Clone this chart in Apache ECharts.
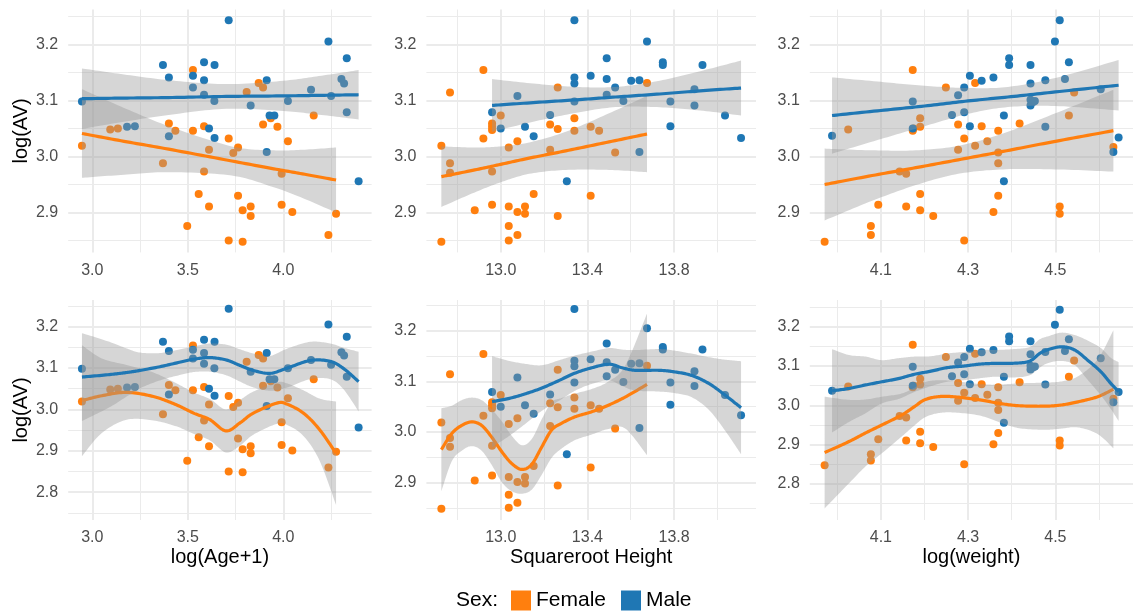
<!DOCTYPE html>
<html><head><meta charset="utf-8">
<script src="https://cdn.jsdelivr.net/npm/echarts@6/dist/echarts.min.js"></script>
<style>html,body{margin:0;padding:0;background:#fff}#c{width:1133px;height:612px}</style>
</head><body><div id="c"></div>
<script>
// ---------- data: [x, logAV] ----------
const ageFemale = [[2.946,3.019],[3.094,3.048],[3.134,3.050],[3.370,2.988],[3.401,3.059],[3.435,3.046],[3.527,3.154],[3.527,3.046],[3.585,3.054],[3.585,2.973],[3.557,2.933],[3.611,3.012],[3.611,2.911],[3.497,2.876],[3.714,3.032],[3.738,3.006],[3.763,3.016],[3.763,2.930],[3.787,2.904],[3.829,2.911],[3.829,2.894],[3.714,2.850],[3.787,2.848],[3.808,3.115],[3.871,3.131],[3.894,3.123],[3.894,3.057],[3.934,3.068],[3.969,3.053],[4.024,3.027],[3.991,2.969],[3.991,2.914],[4.047,2.901],[4.159,3.073],[4.236,2.860],[4.276,2.898]];
const ageMale = [[2.946,3.098],[3.370,3.163],[3.401,3.141],[3.182,3.053],[3.223,3.054],[3.401,3.036],[3.527,3.144],[3.527,3.123],[3.585,3.168],[3.585,3.136],[3.585,3.110],[3.640,3.163],[3.639,3.099],[3.611,3.050],[3.640,3.033],[3.714,3.243],[3.829,3.091],[3.913,3.136],[3.928,3.073],[3.953,3.073],[3.913,3.008],[4.024,3.099],[4.145,3.119],[4.236,3.205],[4.250,3.108],[4.304,3.138],[4.318,3.130],[4.332,3.175],[4.332,3.079],[4.394,2.956]];
const heightFemale = [[12.726,3.019],[12.726,2.848],[12.766,3.114],[12.766,2.988],[12.766,2.971],[12.880,2.904],[12.920,3.154],[12.920,3.032],[12.960,3.059],[12.960,3.053],[12.960,3.047],[12.960,2.973],[12.960,2.914],[13.000,3.073],[13.037,3.016],[13.037,2.911],[13.037,2.876],[13.037,2.850],[13.077,3.027],[13.077,2.901],[13.077,2.860],[13.112,2.911],[13.112,2.898],[13.152,2.933],[13.228,3.057],[13.228,3.012],[13.263,3.123],[13.263,3.049],[13.263,2.894],[13.340,3.068],[13.340,3.046],[13.415,3.053],[13.415,2.930],[13.454,3.046],[13.528,3.007],[13.675,3.131]];
const heightMale = [[12.960,3.079],[13.000,3.050],[13.077,3.108],[13.112,3.053],[13.152,3.036],[13.228,3.074],[13.305,2.956],[13.340,3.243],[13.340,3.141],[13.340,3.130],[13.340,3.098],[13.415,3.144],[13.489,3.175],[13.489,3.138],[13.489,3.110],[13.528,3.123],[13.566,3.099],[13.602,3.135],[13.640,3.136],[13.640,3.008],[13.675,3.205],[13.748,3.168],[13.748,3.163],[13.783,3.098],[13.783,3.054],[13.894,3.120],[13.894,3.091],[13.931,3.163],[14.035,3.073],[14.109,3.033]];
const weightFemale = [[3.971,2.848],[4.025,3.048],[4.077,2.876],[4.077,2.860],[4.094,2.914],[4.143,2.973],[4.158,2.969],[4.158,2.911],[4.173,3.154],[4.173,3.046],[4.175,3.050],[4.190,3.068],[4.190,3.053],[4.190,2.933],[4.190,2.904],[4.220,2.894],[4.249,3.123],[4.277,3.057],[4.277,3.012],[4.291,3.032],[4.291,2.850],[4.316,3.131],[4.316,3.019],[4.331,3.054],[4.344,3.027],[4.358,2.901],[4.369,3.046],[4.369,3.007],[4.369,2.988],[4.369,2.930],[4.418,3.059],[4.510,2.911],[4.510,2.898],[4.531,3.073],[4.543,3.114],[4.633,3.017]];
const weightMale = [[3.988,3.037],[4.173,3.098],[4.173,3.050],[4.263,3.074],[4.277,3.109],[4.291,3.123],[4.291,3.079],[4.304,3.144],[4.304,3.054],[4.331,3.135],[4.358,3.141],[4.382,3.073],[4.382,2.956],[4.394,3.175],[4.394,3.163],[4.443,3.163],[4.443,3.130],[4.443,3.101],[4.443,3.091],[4.449,3.097],[4.453,3.099],[4.477,3.136],[4.477,3.053],[4.499,3.205],[4.510,3.243],[4.522,3.138],[4.531,3.168],[4.604,3.120],[4.633,3.008],[4.645,3.034]];

// ---------- smoothers: [x, lower, fit, upper] ----------
const lmAgeFemale = [[2.946,2.962,3.041,3.120],[3.15,2.967,3.028,3.089],[3.4,2.972,3.013,3.054],[3.73,2.966,2.992,3.018],[3.95,2.945,2.978,3.011],[4.1,2.926,2.969,3.012],[4.276,2.900,2.958,3.016]];
const lmAgeMale = [[2.946,3.049,3.103,3.157],[3.15,3.061,3.104,3.147],[3.4,3.074,3.105,3.136],[3.7,3.085,3.107,3.129],[4.0,3.081,3.108,3.135],[4.2,3.074,3.109,3.144],[4.394,3.066,3.110,3.154]];
const lmHeightFemale = [[12.726,2.910,2.964,3.018],[12.88,2.936,2.976,3.016],[13.0,2.954,2.986,3.018],[13.131,2.969,2.997,3.025],[13.3,2.976,3.010,3.044],[13.5,2.976,3.026,3.077],[13.675,2.972,3.040,3.108]];
const lmHeightMale = [[12.96,3.044,3.091,3.138],[13.15,3.062,3.096,3.130],[13.35,3.078,3.101,3.124],[13.53,3.088,3.106,3.124],[13.72,3.088,3.111,3.134],[13.92,3.082,3.117,3.152],[14.109,3.073,3.122,3.171]];
const lmWeightFemale = [[3.971,2.886,2.950,3.014],[4.08,2.921,2.966,3.011],[4.18,2.949,2.980,3.011],[4.277,2.969,2.994,3.019],[4.38,2.977,3.009,3.041],[4.5,2.977,3.027,3.077],[4.633,2.973,3.046,3.119]];
const lmWeightMale = [[3.988,3.005,3.073,3.141],[4.1,3.031,3.082,3.133],[4.2,3.054,3.090,3.126],[4.3,3.076,3.099,3.122],[4.391,3.088,3.106,3.124],[4.5,3.090,3.115,3.140],[4.645,3.082,3.127,3.172]];

const loessAgeFemale = [[2.946,2.887,3.021,3.155],[3.05,2.943,3.033,3.123],[3.18,2.975,3.041,3.107],[3.32,2.973,3.031,3.089],[3.44,2.959,3.011,3.063],[3.53,2.941,2.991,3.041],[3.616,2.925,2.975,3.025],[3.70,2.896,2.948,3.000],[3.775,2.913,2.968,3.023],[3.843,2.939,2.991,3.043],[3.965,2.965,3.015,3.065],[4.017,2.963,3.013,3.063],[4.105,2.936,2.991,3.046],[4.19,2.876,2.951,3.026],[4.276,2.769,2.894,3.019]];
const loessAgeMale = [[2.946,2.972,3.078,3.184],[3.09,3.005,3.084,3.163],[3.18,3.031,3.089,3.147],[3.25,3.051,3.094,3.137],[3.354,3.070,3.103,3.136],[3.45,3.082,3.113,3.144],[3.53,3.090,3.121,3.152],[3.616,3.091,3.125,3.159],[3.703,3.082,3.119,3.156],[3.773,3.067,3.106,3.145],[3.843,3.053,3.094,3.135],[3.93,3.045,3.087,3.129],[4.017,3.052,3.099,3.146],[4.14,3.073,3.118,3.163],[4.245,3.073,3.116,3.159],[4.314,3.049,3.099,3.149],[4.394,2.995,3.067,3.139]];
const loessHeightFemale = [[12.726,2.883,2.965,3.047],[12.774,2.942,2.997,3.052],[12.82,2.963,3.013,3.063],[12.866,2.972,3.020,3.068],[12.912,2.963,3.013,3.063],[12.958,2.935,2.990,3.045],[13.005,2.901,2.961,3.021],[13.05,2.883,2.938,2.993],[13.097,2.878,2.926,2.974],[13.143,2.886,2.936,2.986],[13.19,2.916,2.971,3.026],[13.235,2.949,3.004,3.059],[13.28,2.967,3.017,3.067],[13.343,2.984,3.030,3.076],[13.42,2.995,3.040,3.085],[13.497,3.006,3.053,3.100],[13.574,3.007,3.069,3.131],[13.675,2.954,3.094,3.234]];
const loessHeightMale = [[12.96,2.970,3.060,3.150],[13.035,2.991,3.066,3.141],[13.11,3.015,3.075,3.135],[13.19,3.042,3.087,3.132],[13.27,3.062,3.102,3.142],[13.34,3.081,3.116,3.151],[13.42,3.095,3.127,3.159],[13.5,3.102,3.134,3.166],[13.56,3.091,3.127,3.163],[13.62,3.082,3.122,3.162],[13.73,3.080,3.122,3.164],[13.8,3.077,3.119,3.161],[13.88,3.069,3.112,3.155],[13.96,3.044,3.096,3.148],[14.035,3.003,3.073,3.143],[14.109,2.956,3.048,3.140]];
const loessWeightFemale = [[3.971,2.738,2.880,3.022],[4.027,2.802,2.908,3.014],[4.065,2.845,2.930,3.015],[4.102,2.878,2.950,3.022],[4.147,2.920,2.975,3.030],[4.177,2.949,2.997,3.045],[4.2,2.969,3.014,3.059],[4.23,2.980,3.022,3.064],[4.267,2.982,3.022,3.062],[4.327,2.974,3.014,3.054],[4.372,2.957,3.005,3.053],[4.417,2.942,2.999,3.056],[4.477,2.938,2.998,3.058],[4.514,2.941,3.001,3.061],[4.552,2.944,3.009,3.074],[4.597,2.927,3.022,3.117],[4.633,2.891,3.041,3.191]];
const loessWeightMale = [[3.988,2.931,3.037,3.143],[4.027,2.958,3.043,3.128],[4.065,2.980,3.052,3.124],[4.102,3.005,3.060,3.115],[4.14,3.016,3.068,3.120],[4.177,3.034,3.079,3.124],[4.215,3.049,3.087,3.125],[4.252,3.060,3.096,3.132],[4.29,3.064,3.100,3.136],[4.327,3.069,3.105,3.141],[4.364,3.073,3.107,3.141],[4.402,3.071,3.107,3.143],[4.44,3.076,3.112,3.148],[4.464,3.096,3.132,3.168],[4.484,3.108,3.142,3.176],[4.514,3.113,3.149,3.185],[4.544,3.103,3.141,3.179],[4.574,3.065,3.115,3.165],[4.604,3.026,3.086,3.146],[4.627,2.991,3.056,3.121],[4.645,2.960,3.035,3.110]];

// ---------- tick labels ----------
const xTicksAge = [3.0, 3.5, 4.0];
const xTicksHeight = [13.0, 13.4, 13.8];
const xTicksWeight = [4.1, 4.3, 4.5];
const yTicksTop = [2.9, 3.0, 3.1, 3.2];
const yTicksBottomAge = [2.8, 2.9, 3.0, 3.1, 3.2];
const yTicksBottomHeight = [2.9, 3.0, 3.1, 3.2];
const yTicksBottomWeight = [2.8, 2.9, 3.0, 3.1, 3.2];
const xTitles = ['log(Age+1)', 'Squareroot Height', 'log(weight)'];
const yTitle = 'log(AV)';
const sexLevels = ['Female', 'Male'];

// ---------- layout & style ----------
const FONT = '"Liberation Sans", Arial, Helvetica, sans-serif';
const ORANGE = '#FF7F0E', BLUE = '#1F77B4';
const GRIDC = '#EBEBEB';
const BAND = 'rgba(153,153,153,0.4)';
const cols = [
  {left: 68.2, width: 303.4, xr: [2.874, 4.462], xt: xTicksAge, f: ageFemale, m: ageMale, lf: lmAgeFemale, lm: lmAgeMale, sf: loessAgeFemale, sm: loessAgeMale},
  {left: 426.4, width: 329.6, xr: [12.657, 14.178], xt: xTicksHeight, f: heightFemale, m: heightMale, lf: lmHeightFemale, lm: lmHeightMale, sf: loessHeightFemale, sm: loessHeightMale},
  {left: 809.8, width: 329.7, xr: [3.937, 4.678], xt: xTicksWeight, f: weightFemale, m: weightMale, lf: lmWeightFemale, lm: lmWeightMale, sf: loessWeightFemale, sm: loessWeightMale}
];
const rows = [
  {top: 9.5, height: 242.9, yr: [[2.829, 3.262], [2.829, 3.262], [2.829, 3.262]], yt: [yTicksTop, yTicksTop, yTicksTop]},
  {top: 300, height: 220, yr: [[2.733, 3.264], [2.826, 3.261], [2.7085, 3.268]], yt: [yTicksBottomAge, yTicksBottomHeight, yTicksBottomWeight]}
];

function minors(ticks, range) {
  const step = ticks[1] - ticks[0];
  const out = [];
  for (let v = ticks[0] - step / 2; v <= range[1] + 1e-9; v += step) {
    if (v >= range[0] - 1e-9) out.push(+v.toFixed(4));
  }
  return out;
}

// Catmull-Rom curve through screen points (rendering only)
function spline(P) {
  const out = [];
  const n = P.length;
  for (let i = 0; i < n - 1; i++) {
    const p0 = P[Math.max(i - 1, 0)], p1 = P[i], p2 = P[i + 1], p3 = P[Math.min(i + 2, n - 1)];
    const steps = 14;
    for (let k = 0; k < steps; k++) {
      const t = k / steps, t2 = t * t, t3 = t2 * t;
      const f = (a, b, c, d) => 0.5 * ((2 * b) + (-a + c) * t + (2 * a - 5 * b + 4 * c - d) * t2 + (-a + 3 * b - 3 * c + d) * t3);
      out.push([f(p0[0], p1[0], p2[0], p3[0]), f(p0[1], p1[1], p2[1], p3[1])]);
    }
  }
  out.push(P[n - 1]);
  return out;
}

function bandItem(rowsData) {
  return function (params, api) {
    if (params.dataIndex !== 0) return null;
    const up = spline(rowsData.map(d => api.coord([d[0], d[3]])));
    const lo = spline(rowsData.map(d => api.coord([d[0], d[1]])));
    return {type: 'polygon', silent: true, shape: {points: up.concat(lo.reverse())}, style: {fill: BAND, stroke: null}};
  };
}
function lineItem(rowsData, color) {
  return function (params, api) {
    if (params.dataIndex !== 0) return null;
    const pts = spline(rowsData.map(d => api.coord([d[0], d[2]])));
    return {type: 'polyline', silent: true, shape: {points: pts}, style: {stroke: color, lineWidth: 3.2, fill: null, lineJoin: 'round', lineCap: 'butt'}};
  };
}

const grid = [], xAxis = [], yAxis = [], series = [];
let idx = 0;
rows.forEach((row, r) => {
  cols.forEach((col, c) => {
    const i = idx++;
    const yr = row.yr[c], yt = row.yt[c];
    grid.push({left: col.left, top: row.top, width: col.width, height: row.height, containLabel: false});
    xAxis.push({
      type: 'value', gridIndex: i, min: col.xr[0], max: col.xr[1],
      axisLine: {show: false}, axisTick: {show: false}, splitLine: {show: false},
      axisLabel: {customValues: col.xt, formatter: v => Number(v).toFixed(1), fontSize: 16, color: '#4D4D4D', margin: 10, fontFamily: FONT},
      name: r === 1 ? xTitles[c] : '', nameLocation: 'middle', nameGap: 27,
      nameTextStyle: {fontSize: 20, color: '#000', fontFamily: FONT}
    });
    yAxis.push({
      type: 'value', gridIndex: i, min: yr[0], max: yr[1],
      axisLine: {show: false}, axisTick: {show: false}, splitLine: {show: false},
      axisLabel: {customValues: yt, formatter: v => Number(v).toFixed(1), fontSize: 16, color: '#4D4D4D', margin: 10, fontFamily: FONT},
      name: c === 0 ? yTitle : '', nameLocation: 'middle', nameGap: 37,
      nameTextStyle: {fontSize: 20, color: '#000', fontFamily: FONT}
    });
    // grid lines
    const ml = [];
    minors(col.xt, col.xr).forEach(v => ml.push({xAxis: v, lineStyle: {color: GRIDC, width: 1, type: 'solid'}}));
    minors(yt, yr).forEach(v => ml.push({yAxis: v, lineStyle: {color: GRIDC, width: 1, type: 'solid'}}));
    col.xt.forEach(v => ml.push({xAxis: v, lineStyle: {color: GRIDC, width: 2, type: 'solid'}}));
    yt.forEach(v => ml.push({yAxis: v, lineStyle: {color: GRIDC, width: 2, type: 'solid'}}));
    series.push({
      type: 'line', xAxisIndex: i, yAxisIndex: i, data: [], z: 0, silent: true,
      markLine: {z: 0, silent: true, symbol: ['none', 'none'], label: {show: false}, animation: false, data: ml}
    });
    // points
    series.push({type: 'scatter', name: sexLevels[0], xAxisIndex: i, yAxisIndex: i, data: col.f, symbolSize: 8, itemStyle: {color: ORANGE, opacity: 1}, z: 2, silent: true});
    series.push({type: 'scatter', name: sexLevels[1], xAxisIndex: i, yAxisIndex: i, data: col.m, symbolSize: 8, itemStyle: {color: BLUE, opacity: 1}, z: 2, silent: true});
    // smoothers (band then line, Female then Male)
    const fits = r === 0 ? [col.lf, col.lm] : [col.sf, col.sm];
    fits.forEach((fit, s) => {
      const zb = 3 + s * 2;
      const color = s === 0 ? ORANGE : BLUE;
      series.push({type: 'custom', name: 'band' + i + s, xAxisIndex: i, yAxisIndex: i, data: fit, encode: {x: 0, y: [1, 2, 3]},
        renderItem: bandItem(fit), z: zb, silent: true});
      series.push({type: 'custom', name: 'fit' + i + s, xAxisIndex: i, yAxisIndex: i, data: fit, encode: {x: 0, y: [1, 2, 3]},
        renderItem: lineItem(fit, color), z: zb + 1, silent: true});
    });
  });
});

const chart = echarts.init(document.getElementById('c'), null, {renderer: 'canvas'});
chart.setOption({
  animation: false,
  backgroundColor: '#fff',
  textStyle: {fontFamily: FONT},
  grid, xAxis, yAxis, series,
  legend: {
    left: 506, top: 585, itemWidth: 20, itemHeight: 20, itemGap: 15, icon: 'rect', selectedMode: false,
    textStyle: {fontSize: 21, color: '#000', fontFamily: FONT},
    data: [{name: sexLevels[0], itemStyle: {color: ORANGE}}, {name: sexLevels[1], itemStyle: {color: BLUE}}]
  },
  graphic: [{type: 'text', left: 456, top: 590, style: {text: 'Sex:', fontSize: 21, fill: '#000', fontFamily: FONT}}]
});
</script></body></html>
